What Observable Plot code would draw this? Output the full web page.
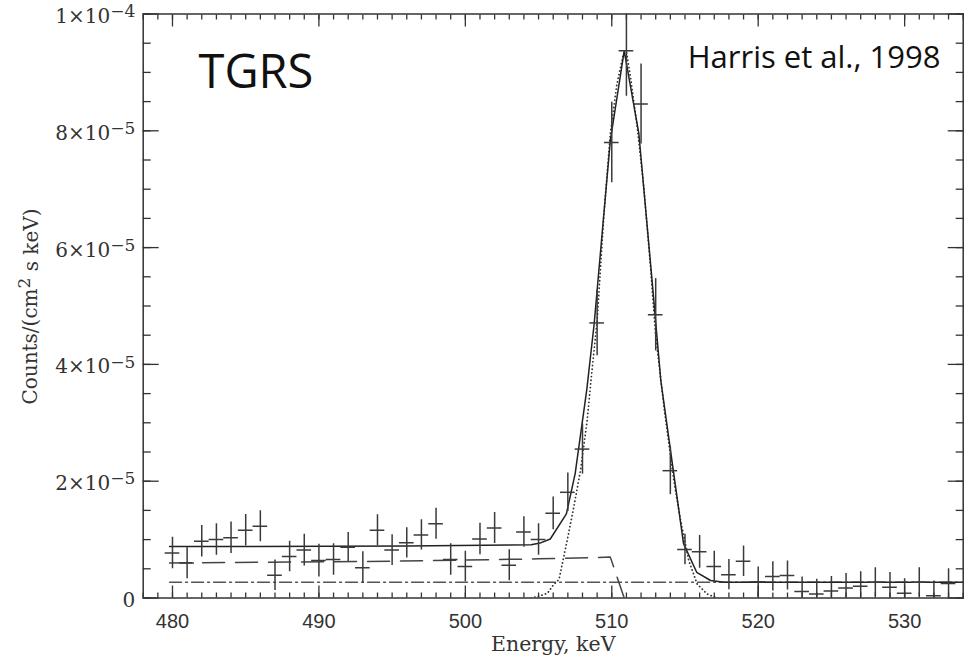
<!DOCTYPE html>
<html>
<head>
<meta charset="utf-8">
<script src="https://cdn.jsdelivr.net/npm/d3@7"></script>
<script src="https://cdn.jsdelivr.net/npm/@observablehq/plot@0.6"></script>
<style>
  html, body { margin: 0; padding: 0; background: #fff; }
  #chart svg { display: block; }
  #chart text { white-space: pre; }
</style>
</head>
<body>
<div id="chart"></div>
<script>
// ---- Data (counts in units of 1e-5 counts/(cm^2 s keV)) ----
const energy = [480,481,482,483,484,485,486,487,488,489,490,491,492,493,494,495,496,497,498,499,
  500,501,502,503,504,505,506,507,508,509,510,511,512,513,514,515,516,517,518,519,
  520,521,522,523,524,525,526,527,528,529,530,531,532,533];
const counts = [0.77,0.60,0.97,1.00,1.03,1.16,1.23,0.39,0.71,0.82,0.64,0.66,0.87,0.52,1.16,0.82,0.945,1.08,1.27,0.66,
  0.54,1.01,1.20,0.56,1.13,1.00,1.45,1.81,2.55,4.71,7.80,9.37,8.46,4.85,2.18,0.83,0.79,0.54,0.40,0.63,
  0.28,0.37,0.385,0.11,0.07,0.12,0.17,0.20,0.27,0.185,0.08,0.27,0.04,0.25];
const errors = [0.27,0.27,0.27,0.27,0.27,0.27,0.265,0.26,0.26,0.27,0.28,0.27,0.25,0.27,0.265,0.265,0.26,0.26,0.265,0.27,
  0.26,0.27,0.265,0.265,0.26,0.27,0.28,0.33,0.43,0.56,0.69,0.78,0.685,0.62,0.41,0.26,0.28,0.26,0.26,0.26,
  0.25,0.25,0.25,0.25,0.25,0.25,0.25,0.25,0.25,0.25,0.25,0.25,0.25,0.25];

// total model fit (solid)
const fitEnergy = [479.8,496,504.5,505.1,505.8,506.9,507.5,508.3,508.8,509.9,510.85,511.85,512.75,513.35,514.9,515.8,516.75,517.65,534];
const fitCounts = [0.88,0.89,0.91,0.94,1.01,1.44,2.13,3.58,4.70,7.83,9.37,7.95,5.44,3.72,0.93,0.44,0.30,0.27,0.27];

// continuum component (dashed)
const contEnergy = [479.8,495,505,509.9,510.85];
const contCounts = [0.60,0.63,0.67,0.70,0.0];

// background component (dash-dot)
const bgEnergy = [479.8,534];
const bgCounts = [0.27,0.27];

// line component (dotted)
const lineEnergy = [504.5,505.0,505.6,506.0,506.4,506.95,507.4,507.86,508.32,508.55,509.0,509.45,509.9,510.35,510.8,511.0,
  511.28,511.74,512.19,512.65,512.99,513.6,514.24,514.7,515.26,515.83,516.5,517.2];
const lineCounts = [0.0,0.03,0.08,0.22,0.32,0.98,1.55,2.18,3.04,3.65,4.75,6.52,7.95,8.8,9.32,9.35,
  8.92,8.06,7.03,5.66,4.52,3.2,2.01,1.33,0.64,0.24,0.07,0.0];

// ticks and labels
const xTicks = [480,490,500,510,520,530];
const xTickLabels = ["480","490","500","510","520","530"];
const yTicks = [0,2,4,6,8,10];
const yTickMantissa = ["0","2×10","4×10","6×10","8×10","1×10"];
const yTickExponent = ["","−5","−5","−5","−5","−4"];
const xLabel = "Energy, keV";
const yLabelParts = ["Counts/(cm","2"," s keV)"];
const titleText = "TGRS";
const creditText = "Harris et al., 1998";

// ---- Build tables ----
const points = energy.map((e, i) => ({energy: e, counts: counts[i], err: errors[i]}));
const toXY = (xs, ys) => xs.map((x, i) => ({x, y: ys[i]}));
const xMinor = d3.range(478, 534.5, 1);
const yMinor = d3.range(0, 10.25, 0.5);

const frameColor = "#333";
const tickOpts = {fill: "none", label: null, stroke: frameColor, strokeWidth: 1.3};

const chart = Plot.plot({
  width: 970,
  height: 660,
  marginLeft: 142.7,
  marginRight: 7.3,
  marginTop: 13.5,
  marginBottom: 62.5,
  x: {domain: [478, 534]},
  y: {domain: [0, 10]},
  style: {background: "#fff", color: "#222", fontFamily: "DejaVu Serif", fontSize: "20px"},
  marks: [
    Plot.line(toXY(bgEnergy, bgCounts), {x: "x", y: "y", stroke: "#555", strokeWidth: 1.4, strokeDasharray: "12,4,2,4", clip: true}),
    Plot.line(toXY(contEnergy, contCounts), {x: "x", y: "y", stroke: "#444", strokeWidth: 1.5, strokeDasharray: "22,11", clip: true}),
    Plot.line(toXY(lineEnergy, lineCounts), {x: "x", y: "y", stroke: "#333", strokeWidth: 1.8, strokeDasharray: "0.1,3.6", strokeLinecap: "round", clip: true}),
    Plot.line(toXY(fitEnergy, fitCounts), {x: "x", y: "y", stroke: "#222", strokeWidth: 1.5, clip: true}),
    Plot.ruleX(points, {x: "energy", y1: d => d.counts - d.err, y2: d => d.counts + d.err, stroke: "#3a3a3a", strokeWidth: 1.5, clip: true}),
    Plot.ruleY(points, {y: "counts", x1: d => d.energy - 0.5, x2: d => d.energy + 0.5, stroke: "#3a3a3a", strokeWidth: 1.5, clip: true}),
    Plot.frame({stroke: frameColor, strokeWidth: 1.5}),
    // inward ticks on all four sides
    Plot.axisX(xMinor, {anchor: "bottom", tickSize: -5, ...tickOpts}),
    Plot.axisX(xTicks, {anchor: "bottom", tickSize: -12, ...tickOpts}),
    Plot.axisX(xMinor, {anchor: "top", tickSize: -5, ...tickOpts}),
    Plot.axisX(xTicks, {anchor: "top", tickSize: -12, ...tickOpts}),
    Plot.axisY(yMinor, {anchor: "left", tickSize: -8, ...tickOpts}),
    Plot.axisY(yTicks, {anchor: "left", tickSize: -16, ...tickOpts}),
    Plot.axisY(yMinor, {anchor: "right", tickSize: -8, ...tickOpts}),
    Plot.axisY(yTicks, {anchor: "right", tickSize: -16, ...tickOpts}),
    // tick labels
    Plot.axisX(xTicks, {anchor: "bottom", tickSize: 0, tickPadding: 16, label: null,
      tickFormat: d => xTickLabels[xTicks.indexOf(d)], fontFamily: "Liberation Sans", fontSize: 20, fill: "#333"}),
    Plot.axisY(yTicks, {anchor: "left", tickSize: 0, tickPadding: 8, label: null, dy: 2.5,
      tickFormat: d => yTickMantissa[yTicks.indexOf(d)] + "|" + yTickExponent[yTicks.indexOf(d)],
      fontFamily: "DejaVu Serif", fontSize: 20, fill: "#333"}),
    // axis titles
    Plot.text([xLabel], {frameAnchor: "bottom", text: d => d, lineAnchor: "bottom", dy: 52.5,
      fontFamily: "DejaVu Serif", fontSize: 20.5, fill: "#333"}),
    Plot.text([yLabelParts.join("|")], {frameAnchor: "left", text: d => d, rotate: -90, dx: -112.7, dy: 0.5,
      lineAnchor: "middle", textAnchor: "middle", fontFamily: "DejaVu Serif", fontSize: 20, fill: "#333"}),
    // annotations
    Plot.text([titleText], {frameAnchor: "top-left", text: d => d, textAnchor: "start", lineAnchor: "bottom",
      dx: 55.3, dy: 73.5, fontFamily: "Open Sans", fontSize: 47, fill: "#111"}),
    Plot.text([creditText], {frameAnchor: "top-right", text: d => d, textAnchor: "end", lineAnchor: "bottom",
      dx: -22.7, dy: 53.5, fontFamily: "Open Sans", fontSize: 31, fill: "#111"})
  ]
});

document.getElementById("chart").appendChild(chart);

// superscripts: any text holding "|" separators (y tick labels and y title)
d3.select(chart).selectAll("text").each(function () {
  const s = this.textContent;
  if (!s.includes("|")) return;
  const parts = s.split("|");
  const t = d3.select(this);
  t.text("");
  if (parts.length === 2) {
    t.append("tspan").text(parts[0]);
    if (parts[1]) t.append("tspan").attr("dy", "-0.33em").attr("font-size", "17").text(parts[1]);
  } else {
    t.append("tspan").text(parts[0]);
    t.append("tspan").attr("dy", "-0.42em").attr("font-size", "17").text(parts[1]);
    t.append("tspan").attr("dy", "0.42em").text(parts[2]);
  }
});
</script>
</body>
</html>
